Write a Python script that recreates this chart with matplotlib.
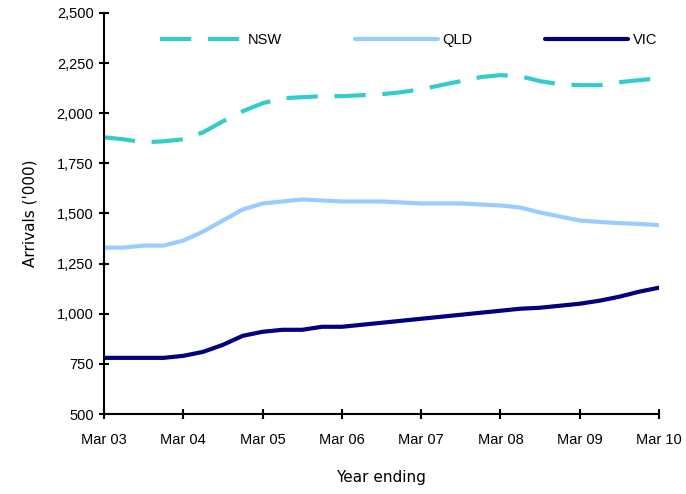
import matplotlib
matplotlib.use("Agg")
import matplotlib.pyplot as plt
import numpy as np

years = ["Mar 03", "Mar 04", "Mar 05", "Mar 06", "Mar 07", "Mar 08", "Mar 09", "Mar 10"]

nsw = [1880, 1870, 1855, 1860, 1870, 1905, 1960, 2010, 2050, 2075, 2080, 2085,
       2085, 2090, 2095, 2105, 2120, 2140, 2160, 2180, 2190, 2185, 2160, 2145,
       2140, 2140, 2155, 2165, 2175]
qld = [1330, 1330, 1340, 1340, 1365, 1410, 1465, 1520, 1550, 1560, 1570, 1565,
       1560, 1560, 1560, 1555, 1550, 1550, 1550, 1545, 1540, 1530, 1505, 1485,
       1465, 1458, 1452, 1448, 1442]
vic = [780, 780, 780, 780, 790, 810, 845, 890, 910, 920, 920, 935,
       935, 945, 955, 965, 975, 985, 995, 1005, 1015, 1025, 1030, 1040,
       1050, 1065, 1085, 1110, 1130]

x = np.arange(len(nsw)) / 4.0

fig = plt.figure(figsize=(6.86, 4.94), dpi=100)
ax = fig.add_axes([104/686, 80/494, 555/686, 401/494])

ax.plot(x, nsw, color="#33CCCC", lw=3, dashes=(7.5, 4), label="NSW")
ax.plot(x, qld, color="#99CCFF", lw=3, label="QLD", solid_capstyle="round")
ax.plot(x, vic, color="#000080", lw=3, label="VIC", solid_capstyle="round")

ax.set_xlim(0, 7)
ax.set_ylim(500, 2500)
ax.set_xticks(range(8))
ax.set_xticklabels(years)
ax.set_yticks(range(500, 2501, 250))
ax.set_yticklabels([f"{v:,}" for v in range(500, 2501, 250)])
for s in ["top", "right"]:
    ax.spines[s].set_visible(False)
for s in ["left", "bottom"]:
    ax.spines[s].set_linewidth(1.5)
ax.tick_params(axis="both", direction="inout", length=7, width=1.5, labelsize=10.5)
for lab in ax.get_xticklabels() + ax.get_yticklabels():
    lab.set_family("Liberation Sans")
ax.tick_params(axis="x", pad=10)
ax.tick_params(axis="y", pad=4)

ax.set_xlabel("Year ending", fontsize=11, family="DejaVu Sans", labelpad=17)
ax.set_ylabel("Arrivals ('000)", fontsize=11, family="DejaVu Sans", labelpad=14)

leg = ax.legend(loc="upper center", ncol=3, frameon=False,
                handlelength=5.7, handletextpad=0.3, columnspacing=5.0,
                borderaxespad=0, borderpad=0,
                bbox_to_anchor=(0.549, 0.95), prop={"family": "Liberation Sans", "size": 10.5})

fig.savefig("out.png", dpi=100)
